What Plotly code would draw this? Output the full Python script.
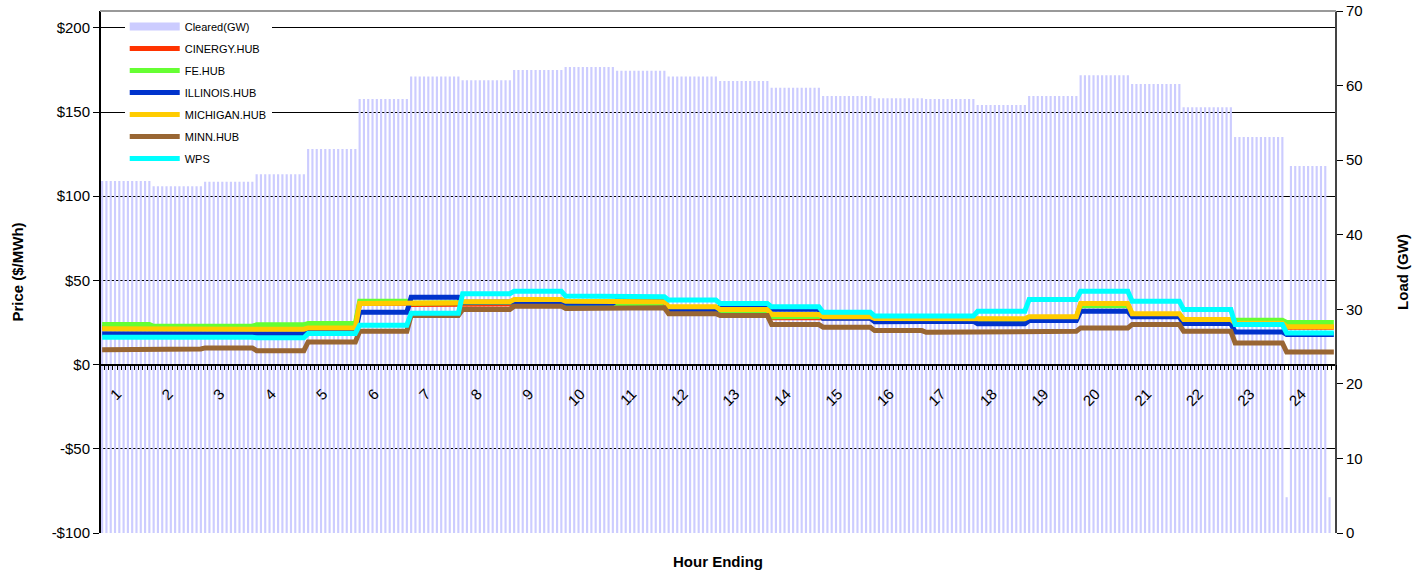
import plotly.graph_objects as go

hours = [str(h) for h in range(1, 25)]

# Cleared load (GW) per hour ending
cleared_gw = [47.2, 46.5, 47.1, 48.1, 51.5, 58.2, 61.2, 60.7, 62.1, 62.5, 62.0, 61.2,
              60.6, 59.7, 58.6, 58.3, 58.2, 57.4, 58.6, 61.4, 60.2, 57.1, 53.1, 49.2]
# 5-minute intervals with unusual cleared values (interval index, GW)
cleared_outliers = {276: 4.8, 286: 4.8, 287: None}
intervals_per_hour = 12

# Hourly prices ($/MWh)
cinergy  = [22.0, 21.5, 21.5, 21.8, 22.5, 36.5, 35.7, 36.0, 36.7, 35.3, 35.5, 33.0,
            31.5, 27.8, 27.8, 26.8, 26.8, 26.5, 27.6, 35.5, 29.5, 26.0, 24.5, 22.2]
fe_hub   = [23.8, 22.8, 22.8, 23.6, 24.4, 37.7, 36.5, 37.0, 37.5, 36.0, 36.3, 32.0,
            31.8, 28.5, 28.8, 27.2, 27.0, 26.8, 28.0, 35.0, 29.8, 26.5, 26.4, 25.0]
illinois = [18.3, 18.3, 17.7, 18.3, 19.8, 31.1, 40.0, 37.0, 37.5, 36.5, 38.3, 32.5,
            34.3, 32.9, 27.5, 25.4, 25.8, 24.2, 26.2, 31.7, 28.4, 24.4, 19.4, 17.9]
michigan = [21.3, 20.8, 20.6, 21.0, 21.8, 36.3, 36.8, 37.3, 38.7, 37.7, 37.3, 34.3,
            32.7, 29.8, 28.4, 27.4, 27.2, 27.2, 28.4, 36.3, 30.2, 26.8, 24.5, 22.5]
minn     = [8.9, 9.3, 9.9, 8.3, 13.5, 19.8, 29.2, 32.7, 34.7, 33.3, 33.7, 30.2,
            29.2, 23.8, 22.2, 20.2, 19.2, 19.2, 19.8, 21.8, 23.8, 19.8, 12.9, 7.5]
wps      = [16.3, 16.9, 16.3, 15.9, 18.5, 23.4, 30.5, 42.1, 43.6, 40.7, 40.3, 38.3,
            36.3, 34.3, 31.1, 28.8, 28.8, 31.7, 38.7, 43.6, 37.7, 32.7, 23.8, 18.8]

series = [("CINERGY.HUB", cinergy, "#ff3300"),
          ("FE.HUB", fe_hub, "#66ff33"),
          ("ILLINOIS.HUB", illinois, "#0033cc"),
          ("MICHIGAN.HUB", michigan, "#ffcc00"),
          ("MINN.HUB", minn, "#996633"),
          ("WPS", wps, "#00ffff")]

FONT = "Arial, Liberation Sans, sans-serif"
n_int = len(hours) * intervals_per_hour

# bar values per 5-min interval
bar_x, bar_y = [], []
for hi, gw in enumerate(cleared_gw):
    for k in range(intervals_per_hour):
        idx = hi * intervals_per_hour + k
        v = cleared_outliers[idx] if idx in cleared_outliers else gw
        bar_x.append(idx + 0.5)
        bar_y.append(v)

fig = go.Figure()
# bars on the primary (load) axis so they sit under the price lines
fig.add_trace(go.Bar(x=bar_x, y=bar_y, yaxis="y", marker=dict(color="#ccccff", line_width=0),
                     name="Cleared(GW)", showlegend=False, hoverinfo="skip"))
# legend entry for bars (wide swatch)
fig.add_trace(go.Scatter(x=[None], y=[None], yaxis="y2", mode="lines", name="Cleared(GW)",
                         line=dict(color="#ccccff", width=8), legendrank=1, legendgroup="g0"))

for i, (name, vals, color) in enumerate(series):
    xs, ys = [], []
    for hi, v in enumerate(vals):
        xs += [hi * intervals_per_hour + 0.5, hi * intervals_per_hour + intervals_per_hour - 0.5]
        ys += [v, v]
    fig.add_trace(go.Scatter(x=xs, y=ys, yaxis="y2", mode="lines", name=name,
                             line=dict(color=color, width=5), legendrank=i + 2,
                             legendgroup="g%d" % (i + 1)))

y_min, y_max = -100, 210
zero_pos = (0 - y_min) / (y_max - y_min)

price_ticks = [-100, -50, 0, 50, 100, 150, 200]
price_text = ["-$100", "-$50", "$0", "$50", "$100", "$150", "$200"]

fig.update_layout(
    width=1424, height=576,
    margin=dict(l=100, r=88, t=11, b=43),
    plot_bgcolor="white", paper_bgcolor="white",
    font=dict(family=FONT, size=15, color="#000"),
    bargap=0.5,
    showlegend=True,
    legend=dict(x=0.020, y=0.998, xanchor="left", yanchor="top",
                bgcolor="white", borderwidth=0, font=dict(size=11, family=FONT),
                tracegroupgap=3, itemwidth=50),
    xaxis=dict(range=[0, n_int], anchor="free", position=zero_pos, automargin=False,
               tickmode="array",
               tickvals=[h * intervals_per_hour + 4 for h in range(len(hours))],
               ticktext=hours, tickangle=-45, ticks="outside", ticklen=5,
               tickcolor="#000", showline=True, linecolor="#000", linewidth=1.5,
               showgrid=False, zeroline=False, tickfont=dict(size=15, color="#000"),
               ticklabelstandoff=9,
               minor=dict(ticks="outside", dtick=1, tick0=0, ticklen=5, tickcolor="#000",
                          showgrid=False)),
    yaxis=dict(range=[0, 70], dtick=10, side="right", anchor="free", position=1,
               automargin=False, ticklabeloverflow="allow",
               ticks="outside", ticklen=6, tickcolor="#000", showline=True, linecolor="#444",
               linewidth=2, showgrid=False, zeroline=False,
               title=dict(text="<b>Load (GW)</b>", font=dict(size=15), standoff=35)),
    yaxis2=dict(range=[y_min, y_max], overlaying="y", side="left", anchor="free", position=0,
                automargin=False, ticklabeloverflow="allow",
                tickmode="array", tickvals=price_ticks, ticktext=price_text,
                ticks="outside", ticklen=6, tickcolor="#000", showline=True, linecolor="#000",
                linewidth=2, showgrid=True, gridcolor="#000", gridwidth=1, zeroline=False,
                title=dict(text="<b>Price ($/MWh)</b>", font=dict(size=15), standoff=23)),
    shapes=[dict(type="line", xref="paper", yref="paper", x0=0, x1=1, y0=1, y1=1,
                 line=dict(color="#999", width=2))],
    annotations=[dict(text="<b>Hour Ending</b>", xref="paper", yref="paper", x=0.5, y=-0.035,
                      xanchor="center", yanchor="top", showarrow=False, font=dict(size=15))],
)

# remove the default page margin so the figure fills the window exactly
fig.write_html("out.html", config={"displayModeBar": False},
               post_script="document.body.style.margin='0';")
